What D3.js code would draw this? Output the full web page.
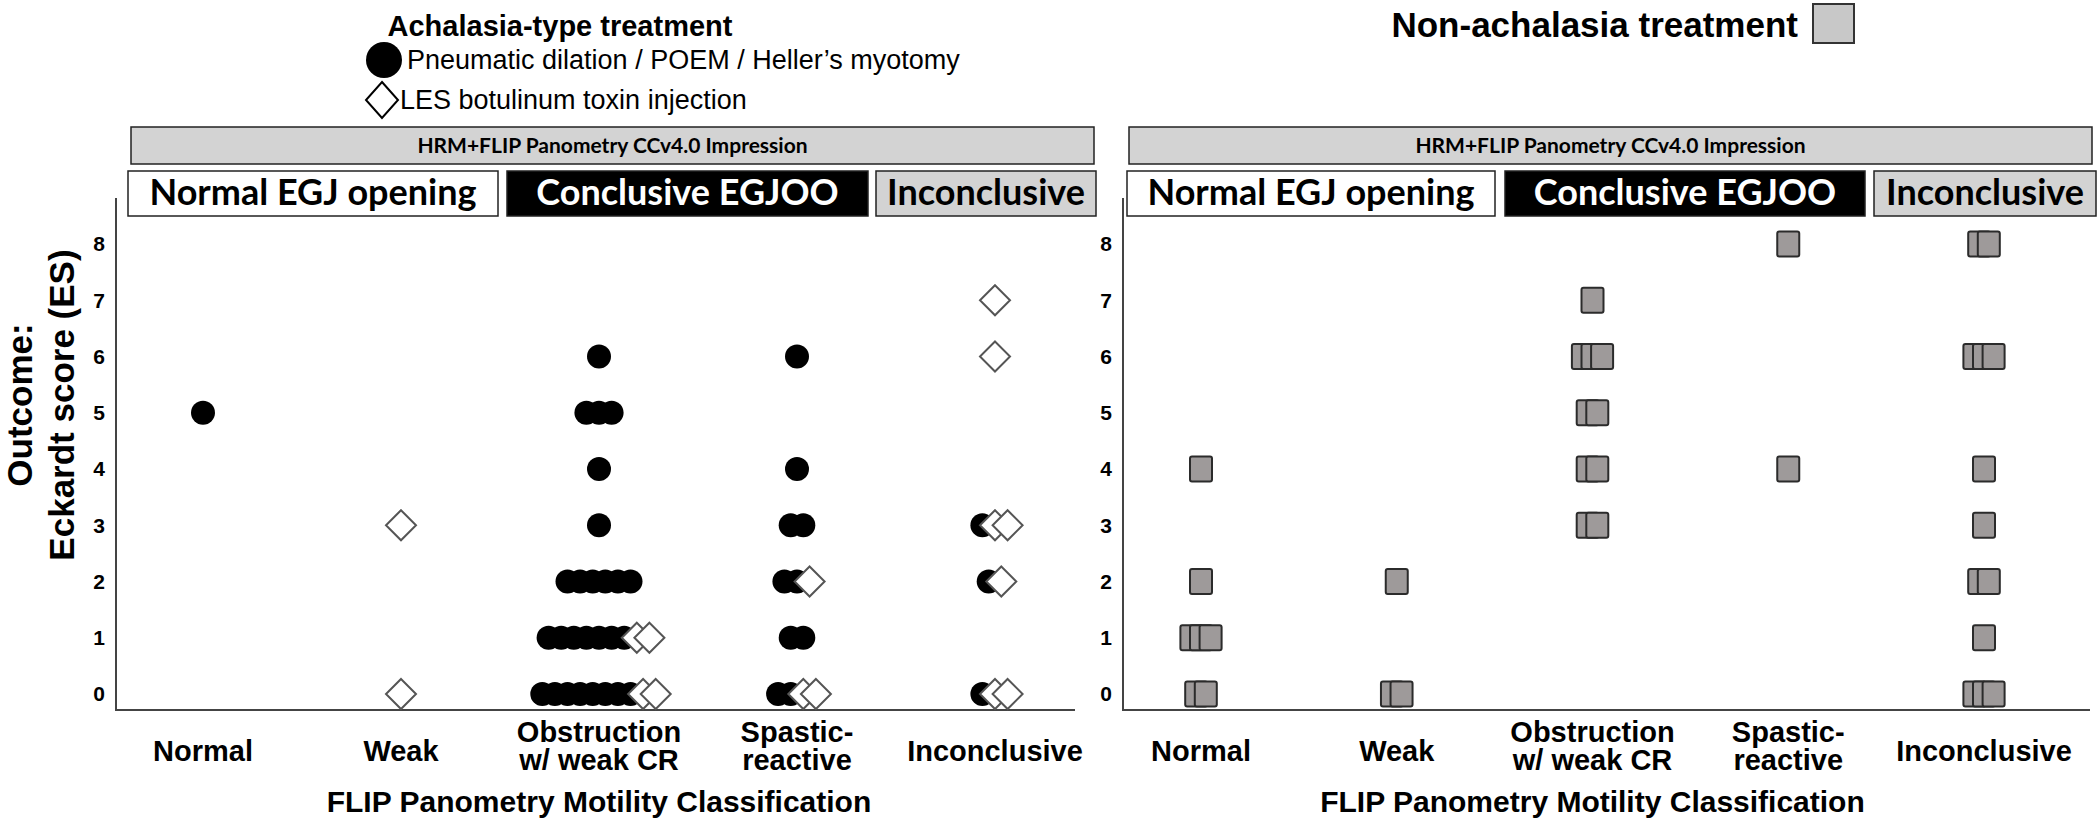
<!DOCTYPE html>
<html>
<head>
<meta charset="utf-8">
<script src="https://cdn.jsdelivr.net/npm/d3@7"></script>
<style>
  body { margin: 0; background: #fff; }
  text { font-family: "Liberation Sans", Arial, sans-serif; }
  .cal { font-family: Lato, "Open Sans", sans-serif; font-weight: bold; }
</style>
</head>
<body>
<svg id="chart" width="2100" height="820"></svg>
<script>
// FLIP panometry motility classes (x axis)
var categories = ["Normal", "Weak", "Obstruction w/ weak CR", "Spastic-reactive", "Inconclusive"];
var categoryLines = [["Normal"], ["Weak"], ["Obstruction", "w/ weak CR"], ["Spastic-", "reactive"], ["Inconclusive"]];
var esTicks = [0, 1, 2, 3, 4, 5, 6, 7, 8];
var impressionGroups = ["Normal EGJ opening", "Conclusive EGJOO", "Inconclusive"];

// [category, Eckardt score, number of patients]
var pdPoemHeller = [
  ["Normal", 5, 1],
  ["Obstruction w/ weak CR", 6, 1], ["Obstruction w/ weak CR", 5, 3], ["Obstruction w/ weak CR", 4, 1],
  ["Obstruction w/ weak CR", 3, 1], ["Obstruction w/ weak CR", 2, 6], ["Obstruction w/ weak CR", 1, 7],
  ["Obstruction w/ weak CR", 0, 8],
  ["Spastic-reactive", 6, 1], ["Spastic-reactive", 4, 1], ["Spastic-reactive", 3, 2],
  ["Spastic-reactive", 2, 2], ["Spastic-reactive", 1, 2], ["Spastic-reactive", 0, 2],
  ["Inconclusive", 3, 1], ["Inconclusive", 2, 1], ["Inconclusive", 0, 1]
];
var lesBotox = [
  ["Weak", 3, 1], ["Weak", 0, 1],
  ["Obstruction w/ weak CR", 1, 2], ["Obstruction w/ weak CR", 0, 2],
  ["Spastic-reactive", 2, 1], ["Spastic-reactive", 0, 2],
  ["Inconclusive", 7, 1], ["Inconclusive", 6, 1], ["Inconclusive", 3, 2],
  ["Inconclusive", 2, 1], ["Inconclusive", 0, 2]
];
var nonAchalasia = [
  ["Normal", 4, 1], ["Normal", 2, 1], ["Normal", 1, 3], ["Normal", 0, 2],
  ["Weak", 2, 1], ["Weak", 0, 2],
  ["Obstruction w/ weak CR", 7, 1], ["Obstruction w/ weak CR", 6, 3], ["Obstruction w/ weak CR", 5, 2],
  ["Obstruction w/ weak CR", 4, 2], ["Obstruction w/ weak CR", 3, 2],
  ["Spastic-reactive", 8, 1], ["Spastic-reactive", 4, 1],
  ["Inconclusive", 8, 2], ["Inconclusive", 6, 3], ["Inconclusive", 4, 1], ["Inconclusive", 3, 1],
  ["Inconclusive", 2, 2], ["Inconclusive", 1, 1], ["Inconclusive", 0, 3]
];

var svg = d3.select("#chart");
var y = d3.scaleLinear().domain([0, 8]).range([694, 244]);

// put every patient of a cell side by side, later ones drawn on top to the right
function cluster(seriesList, x, step) {
  var cells = d3.group([].concat.apply([], seriesList.map(function(s) {
    return s.rows.map(function(r) { return {cat: r[0], es: r[1], n: r[2], shape: s.shape}; });
  })), function(d) { return d.cat + "|" + d.es; });
  var pts = [];
  cells.forEach(function(rows) {
    var items = [];
    rows.forEach(function(r) { for (var i = 0; i < r.n; i++) items.push(r); });
    items.forEach(function(r, i) {
      pts.push({shape: r.shape, x: x(r.cat) + (i - (items.length - 1) / 2) * step, y: y(r.es)});
    });
  });
  return pts;
}

function diamond(h) { return "M0," + (-h) + "L" + h + ",0L0," + h + "L" + (-h) + ",0Z"; }

function panel(p) {
  var g = svg.append("g");
  var x = d3.scalePoint().domain(categories).range(p.catRange);

  // header boxes
  g.append("rect").attr("x", p.header[0]).attr("y", 127).attr("width", p.header[1] - p.header[0]).attr("height", 37)
    .attr("fill", "#d3d3d3").attr("stroke", "#222").attr("stroke-width", 1.5);
  g.append("text").attr("class", "cal").attr("x", (p.header[0] + p.header[1]) / 2).attr("y", 153)
    .attr("text-anchor", "middle").attr("font-size", 21).text("HRM+FLIP Panometry CCv4.0 Impression");
  var fills = ["#fff", "#000", "#d3d3d3"], inks = ["#000", "#fff", "#000"];
  impressionGroups.forEach(function(name, i) {
    var b = p.groups[i];
    g.append("rect").attr("x", b[0]).attr("y", 171).attr("width", b[1] - b[0]).attr("height", 45)
      .attr("fill", fills[i]).attr("stroke", "#222").attr("stroke-width", 1.5);
    g.append("text").attr("class", "cal").attr("x", (b[0] + b[1]) / 2).attr("y", 205)
      .attr("text-anchor", "middle").attr("font-size", 36).attr("fill", inks[i]).text(name);
  });

  // axes
  g.append("line").attr("x1", p.axisX).attr("x2", p.axisX).attr("y1", 198).attr("y2", 711)
    .attr("stroke", "#444").attr("stroke-width", 2);
  g.append("line").attr("x1", p.axisX).attr("x2", p.axisEnd).attr("y1", 710).attr("y2", 710)
    .attr("stroke", "#444").attr("stroke-width", 2);
  g.selectAll(".ytick").data(esTicks).join("text").attr("class", "ytick")
    .attr("x", p.axisX - 11).attr("y", function(d) { return y(d); }).attr("dy", "0.35em")
    .attr("text-anchor", "end").attr("font-size", 21).attr("font-weight", "bold").text(function(d) { return d; });

  categories.forEach(function(c, i) {
    var lines = categoryLines[i];
    var t = g.append("text").attr("text-anchor", "middle").attr("font-size", 29).attr("font-weight", "bold");
    lines.forEach(function(l, j) {
      t.append("tspan").attr("x", x(c)).attr("y", lines.length == 1 ? 761 : 742 + j * 28).text(l);
    });
  });
  g.append("text").attr("x", x(categories[2])).attr("y", 812).attr("text-anchor", "middle")
    .attr("font-size", 30).attr("font-weight", "bold").text("FLIP Panometry Motility Classification");

  // marks
  var pts = cluster(p.series, x, p.step);
  g.selectAll(".pt").data(pts).join(function(enter) {
    return enter.append(function(d) {
      return document.createElementNS("http://www.w3.org/2000/svg", d.shape == "circle" ? "circle" : d.shape == "square" ? "rect" : "path");
    });
  }).each(function(d) {
    var s = d3.select(this);
    if (d.shape == "circle") {
      s.attr("cx", d.x).attr("cy", d.y).attr("r", 12).attr("fill", "#000");
    } else if (d.shape == "diamond") {
      s.attr("transform", "translate(" + d.x + "," + d.y + ")").attr("d", diamond(15))
        .attr("fill", "#fff").attr("stroke", "#555").attr("stroke-width", 2);
    } else {
      s.attr("x", d.x - 11).attr("y", d.y - 12.5).attr("width", 22).attr("height", 25).attr("rx", 2)
        .attr("fill", "#9e9a9a").attr("stroke", "#2b2b2b").attr("stroke-width", 2);
    }
  });
}

panel({
  axisX: 116, axisEnd: 1075, catRange: [203, 995], step: 12.6,
  header: [131, 1094], groups: [[128, 498], [507, 868], [876, 1096]],
  series: [{rows: pdPoemHeller, shape: "circle"}, {rows: lesBotox, shape: "diamond"}]
});
panel({
  axisX: 1123, axisEnd: 2090, catRange: [1201, 1984], step: 9.6,
  header: [1129, 2092], groups: [[1127, 1495], [1505, 1865], [1874, 2096]],
  series: [{rows: nonAchalasia, shape: "square"}]
});

// y axis title
var yt = svg.append("text").attr("transform", "translate(0,405) rotate(-90)")
  .attr("text-anchor", "middle").attr("font-size", 35).attr("font-weight", "bold");
yt.append("tspan").attr("x", 0).attr("y", 32).text("Outcome:");
yt.append("tspan").attr("x", 0).attr("y", 74).text("Eckardt score (ES)");

// legends
svg.append("text").attr("x", 560).attr("y", 36).attr("text-anchor", "middle")
  .attr("font-size", 29).attr("font-weight", "bold").text("Achalasia-type treatment");
svg.append("circle").attr("cx", 384).attr("cy", 60).attr("r", 18).attr("fill", "#000");
svg.append("text").attr("x", 407).attr("y", 69).attr("font-size", 27)
  .text("Pneumatic dilation / POEM / Heller\u2019s myotomy");
svg.append("path").attr("transform", "translate(382,100)").attr("d", "M0,-18L16,0L0,18L-16,0Z")
  .attr("fill", "#fff").attr("stroke", "#000").attr("stroke-width", 2);
svg.append("text").attr("x", 400).attr("y", 109).attr("font-size", 27).text("LES botulinum toxin injection");

svg.append("text").attr("x", 1798).attr("y", 37).attr("text-anchor", "end")
  .attr("font-size", 35).attr("font-weight", "bold").text("Non-achalasia treatment");
svg.append("rect").attr("x", 1813).attr("y", 4).attr("width", 41).attr("height", 39)
  .attr("fill", "#c8c8c8").attr("stroke", "#333").attr("stroke-width", 2);
</script>
</body>
</html>
